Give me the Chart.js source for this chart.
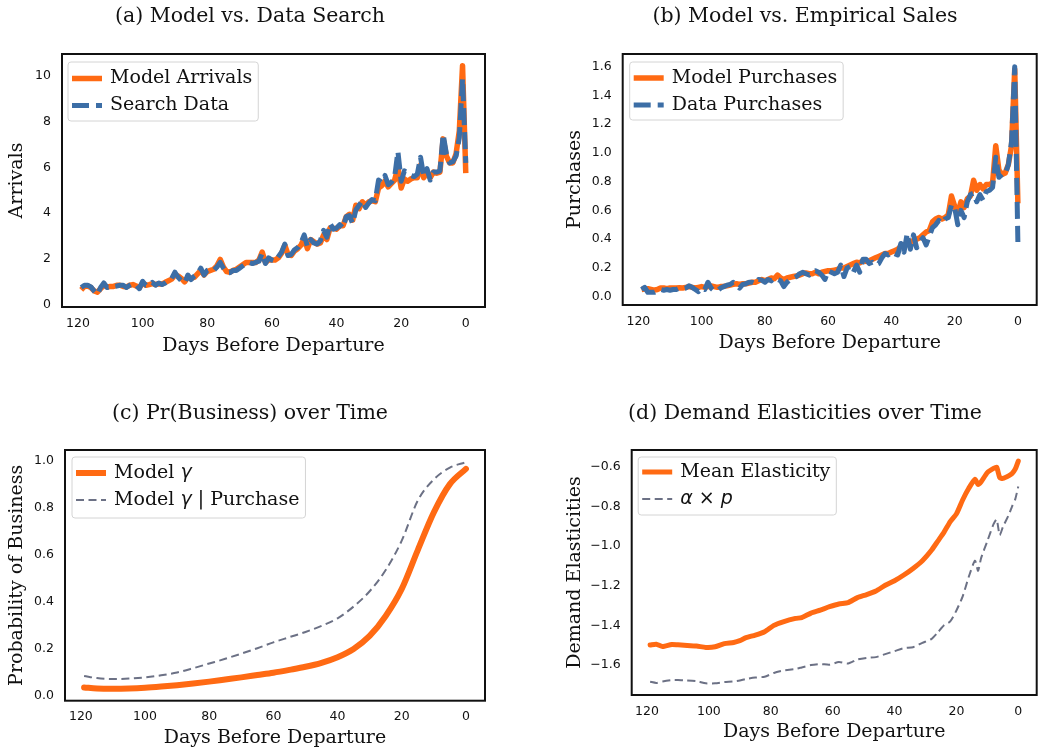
<!DOCTYPE html>
<html>
<head>
<meta charset="utf-8">
<script src="https://cdn.jsdelivr.net/npm/chart.js@4.4.1/dist/chart.umd.min.js"></script>
<style>
  html, body { margin: 0; padding: 0; background: #fff; overflow: hidden; }
  canvas { position: absolute; }
</style>
</head>
<body>
<canvas id="ca" width="520" height="380" style="left:0;top:0"></canvas>
<canvas id="cb" width="531" height="380" style="left:520px;top:0"></canvas>
<canvas id="cc" width="520" height="374" style="left:0;top:380px"></canvas>
<canvas id="cd" width="531" height="374" style="left:520px;top:380px"></canvas>
<script>
// days before departure, 119 -> 0
const days = [
  119,118,117,116,115,114,113,112,111,110,
  109,108,107,106,105,104,103,102,101,100,
  99,98,97,96,95,94,93,92,91,90,
  89,88,87,86,85,84,83,82,81,80,
  79,78,77,76,75,74,73,72,71,70,
  69,68,67,66,65,64,63,62,61,60,
  59,58,57,56,55,54,53,52,51,50,
  49,48,47,46,45,44,43,42,41,40,
  39,38,37,36,35,34,33,32,31,30,
  29,28,27,26,25,24,23,22,21,20,
  19,18,17,16,15,14,13,12,11,10,
  9,8,7,6,5,4,3,2,1,0
];
const xTicks = [0, 20, 40, 60, 80, 100, 120];

// (a)
const modelArrivals = [
  0.65,0.8,0.82,0.75,0.6,0.55,0.7,0.85,0.78,0.8,
  0.8,0.85,0.85,0.8,0.78,0.85,0.88,0.82,0.75,0.95,
  0.85,0.88,0.92,0.88,0.92,0.9,0.98,1.05,1.12,1.3,
  1.25,1.15,1.0,1.2,1.15,1.2,1.35,1.5,1.3,1.45,
  1.5,1.55,1.7,1.98,1.65,1.45,1.42,1.5,1.55,1.65,
  1.75,1.85,1.85,1.85,1.85,1.95,2.3,1.85,1.95,1.95,
  1.95,2.05,2.25,2.6,2.2,2.15,2.35,2.45,2.6,2.9,
  2.45,2.85,2.75,2.65,2.7,3.05,2.85,3.35,3.35,3.3,
  3.45,3.45,3.85,3.95,3.7,4.35,4.2,4.5,4.35,4.5,
  4.55,4.5,5.1,5.2,5.4,5.15,5.3,5.45,6.0,5.1,
  5.5,5.4,5.5,5.55,5.55,6.1,5.55,5.8,5.55,5.8,
  5.75,5.8,7.25,6.5,6.2,6.2,6.6,7.6,10.45,5.75
];
const searchData = [
  0.75,0.85,0.85,0.78,0.6,0.45,0.75,0.95,0.75,0.8,
  0.8,0.82,0.85,0.85,0.75,0.85,0.92,0.85,0.7,1.02,
  0.85,0.85,0.98,0.85,0.95,0.88,0.95,1.05,1.15,1.42,
  1.2,1.05,0.95,1.3,1.1,1.25,1.35,1.6,1.3,1.5,
  1.55,1.5,1.65,1.85,1.6,1.4,1.4,1.5,1.5,1.6,
  1.7,1.8,1.85,1.8,1.85,1.9,2.25,1.8,2.05,1.95,
  1.9,2.1,2.3,2.65,2.15,2.2,2.4,2.5,2.7,3.05,
  2.55,2.85,2.7,2.65,2.8,3.25,2.95,3.55,3.3,3.35,
  3.5,3.35,3.85,3.9,3.55,4.15,4.35,4.55,4.25,4.45,
  4.6,4.55,5.45,5.35,5.65,5.25,5.35,5.6,6.7,5.4,
  5.85,5.75,5.65,5.6,5.7,6.45,5.6,5.95,5.45,5.8,
  5.8,5.85,7.45,6.6,6.2,6.25,6.5,7.3,9.9,6.2
];

// (b)
const modelPurchases = [
  0.05,0.055,0.055,0.05,0.045,0.05,0.06,0.06,0.055,0.06,
  0.06,0.06,0.062,0.06,0.065,0.07,0.065,0.06,0.065,0.07,
  0.065,0.07,0.075,0.07,0.065,0.07,0.072,0.075,0.08,0.085,
  0.09,0.085,0.09,0.09,0.095,0.1,0.1,0.11,0.12,0.11,
  0.12,0.13,0.125,0.15,0.13,0.12,0.13,0.135,0.14,0.145,
  0.15,0.16,0.165,0.16,0.16,0.17,0.16,0.17,0.175,0.18,
  0.18,0.185,0.19,0.2,0.2,0.21,0.22,0.23,0.24,0.235,
  0.25,0.245,0.25,0.26,0.27,0.28,0.29,0.3,0.3,0.31,
  0.32,0.33,0.35,0.36,0.37,0.38,0.39,0.4,0.41,0.43,
  0.45,0.46,0.52,0.54,0.55,0.54,0.55,0.57,0.7,0.63,
  0.58,0.66,0.62,0.68,0.7,0.81,0.74,0.78,0.75,0.78,
  0.78,0.79,1.05,0.88,0.85,0.86,0.92,1.05,1.58,0.65
];
const dataPurchases = [
  0.05,0.065,0.03,0.03,0.03,0.04,0.05,0.045,0.05,0.045,
  0.05,0.05,0.06,0.055,0.06,0.075,0.065,0.05,0.035,0.06,
  0.05,0.1,0.06,0.04,0.04,0.06,0.07,0.08,0.085,0.1,
  0.08,0.06,0.085,0.09,0.1,0.1,0.09,0.12,0.115,0.1,
  0.12,0.11,0.13,0.12,0.11,0.07,0.1,0.12,0.13,0.14,
  0.16,0.17,0.16,0.15,0.17,0.18,0.17,0.15,0.12,0.18,
  0.17,0.16,0.17,0.22,0.14,0.2,0.21,0.17,0.22,0.17,
  0.26,0.26,0.23,0.24,0.22,0.23,0.27,0.3,0.29,0.31,
  0.3,0.29,0.37,0.31,0.44,0.33,0.43,0.34,0.38,0.41,
  0.36,0.42,0.48,0.5,0.53,0.51,0.54,0.55,0.64,0.62,
  0.5,0.6,0.55,0.66,0.71,0.72,0.66,0.71,0.67,0.73,
  0.74,0.76,0.97,0.83,0.85,0.85,0.92,1.08,1.6,0.38
];

// (c)
const cDays = [119,115,110,105,100,95,90,85,80,75,70,65,60,55,50,45,40,35,30,25,20,15,10,5,0];
const gammaModel = [0.036,0.032,0.031,0.032,0.035,0.040,0.046,0.053,0.061,0.070,0.079,0.089,0.099,
  0.111,0.124,0.141,0.165,0.200,0.255,0.340,0.455,0.620,0.780,0.900,0.965];
const gammaPurchase = [0.085,0.076,0.072,0.074,0.079,0.088,0.100,0.118,0.138,0.158,0.180,0.203,0.228,
  0.250,0.272,0.298,0.330,0.380,0.445,0.535,0.660,0.830,0.920,0.970,0.993];

// (d)
const dDays = [119,117,115,112,110,108,104,101,98,95,92,90,88,85,82,79,76,72,70,67,64,61,58,55,52,
  49,46,43,40,37,34,31,28,26,24,22,20,18,16,14,13,12,10,8,7,6,5,3,2,1,0];
const meanElasticity = [-1.499,-1.495,-1.507,-1.496,-1.498,-1.500,-1.504,-1.511,-1.508,-1.492,-1.486,
  -1.477,-1.462,-1.449,-1.432,-1.400,-1.382,-1.365,-1.361,-1.338,-1.323,-1.306,-1.292,-1.285,-1.260,
  -1.245,-1.227,-1.198,-1.175,-1.146,-1.113,-1.074,-1.020,-0.975,-0.930,-0.877,-0.838,-0.768,-0.709,
  -0.664,-0.690,-0.676,-0.630,-0.609,-0.603,-0.655,-0.659,-0.645,-0.634,-0.613,-0.572];
const alphaP = [-1.684,-1.690,-1.683,-1.676,-1.676,-1.677,-1.681,-1.692,-1.692,-1.686,-1.683,
  -1.678,-1.670,-1.663,-1.659,-1.640,-1.628,-1.620,-1.612,-1.600,-1.595,-1.598,-1.585,-1.592,-1.572,
  -1.564,-1.560,-1.545,-1.530,-1.515,-1.510,-1.488,-1.468,-1.435,-1.400,-1.380,-1.325,-1.255,-1.155,
  -1.074,-1.125,-1.060,-0.975,-0.890,-0.866,-0.945,-0.905,-0.840,-0.800,-0.765,-0.700];

const ORANGE = '#ff6a13';
const BLUE = '#3c6ea6';
const GREY = '#6c7185';
const SERIF = '"DejaVu Serif", serif';
const SANS = '"DejaVu Sans", sans-serif';
const tickFont = { family: SANS, size: 12.5 };
const axisFont = { family: SERIF, size: 19 };
const legFont = '19px ' + SERIF;
const mathFont = 'italic 19px ' + SANS;

function pairs(xs, ys) {
  return xs.map((x, i) => ({ x: x, y: ys[i] }));
}

// frame, panel caption and in-axes legend
function decor(o) {
  return {
    id: 'decor',
    afterDraw(chart) {
      const ctx = chart.ctx, a = chart.chartArea;
      ctx.save();
      ctx.setLineDash([]);
      ctx.strokeStyle = '#111';
      ctx.lineWidth = 2;
      ctx.strokeRect(a.left, a.top, a.right - a.left, a.bottom - a.top);

      ctx.fillStyle = '#111';
      ctx.textBaseline = 'middle';
      ctx.textAlign = 'center';
      ctx.font = '20.5px ' + SERIF;
      ctx.fillText(o.title, o.titleX, o.titleY);

      ctx.textAlign = 'left';
      const L = o.legend;
      const widths = L.items.map(it => it.parts.reduce((w, p) => {
        ctx.font = p.font;
        return w + ctx.measureText(p.text).width;
      }, 0));
      const bx = a.left + L.dx, by = a.top + L.dy;
      const bw = 42 + Math.max(...widths) + 6;
      ctx.beginPath();
      ctx.roundRect(bx, by, bw, L.h, 3);
      ctx.fillStyle = 'rgba(255,255,255,0.8)';
      ctx.fill();
      ctx.strokeStyle = '#d4d4d4';
      ctx.lineWidth = 1;
      ctx.stroke();

      L.items.forEach((it, i) => {
        const ds = chart.data.datasets[it.ds];
        const y = by + L.rows[i];
        ctx.beginPath();
        ctx.setLineDash(ds.borderDash || []);
        ctx.lineWidth = ds.borderWidth;
        ctx.strokeStyle = ds.borderColor;
        ctx.lineCap = 'butt';
        ctx.moveTo(bx + 4, y);
        ctx.lineTo(bx + 34, y);
        ctx.stroke();
        ctx.setLineDash([]);
        ctx.fillStyle = '#111';
        let tx = bx + 42;
        it.parts.forEach(p => {
          ctx.font = p.font;
          ctx.fillText(p.text, tx, y);
          tx += ctx.measureText(p.text).width;
        });
      });
      ctx.restore();
    }
  };
}

function panel(id, c) {
  new Chart(document.getElementById(id), {
    type: 'line',
    data: { datasets: c.datasets },
    options: {
      responsive: false,
      animation: false,
      layout: { padding: c.pad },
      elements: { point: { radius: 0 }, line: { borderJoinStyle: 'round' } },
      plugins: { legend: { display: false }, tooltip: { enabled: false }, title: { display: false } },
      scales: {
        x: {
          type: 'linear', reverse: true, min: -5.95, max: 124.95,
          grid: { display: false, drawTicks: false }, border: { display: false },
          afterBuildTicks: ax => { ax.ticks = xTicks.map(v => ({ value: v })); },
          ticks: { font: tickFont, color: '#111', padding: 9, maxRotation: 0, autoSkip: false },
          title: { display: true, text: 'Days Before Departure', font: axisFont, color: '#111',
                   padding: { top: 0, bottom: c.xTitlePad } },
          afterFit: ax => { ax.height = c.xHeight; }
        },
        y: {
          type: 'linear', min: c.yMin, max: c.yMax,
          grid: { display: false, drawTicks: false }, border: { display: false },
          afterBuildTicks: ax => { ax.ticks = c.yTicks.map(v => ({ value: v })); },
          ticks: { font: tickFont, color: '#111', padding: 11, callback: c.yFmt },
          title: { display: true, text: c.yTitle, font: axisFont, color: '#111',
                   padding: { top: c.yTitlePad, bottom: 0 } },
          afterFit: ax => { ax.width = c.yWidth; }
        }
      }
    },
    plugins: [decor(c)]
  });
}

const oneDec = v => v.toFixed(1);

panel('ca', {
  title: '(a) Model vs. Data Search', titleX: 250, titleY: 17,
  pad: { left: 0, top: 54, right: 35, bottom: 0 },
  yWidth: 62, xHeight: 73, yTitlePad: 5.6, xTitlePad: 22.6,
  yMin: -0.1, yMax: 10.96, yTicks: [0, 2, 4, 6, 8, 10], yFmt: v => String(v),
  yTitle: 'Arrivals',
  datasets: [
    { data: pairs(days, modelArrivals), borderColor: ORANGE, borderWidth: 5.5, tension: 0, order: 2 },
    { data: pairs(days, searchData), borderColor: BLUE, borderWidth: 5, borderDash: [17, 7], tension: 0, order: 1 }
  ],
  legend: { dx: 6, dy: 8, h: 59, rows: [16.5, 43.5], items: [
    { ds: 0, parts: [{ text: 'Model Arrivals', font: legFont }] },
    { ds: 1, parts: [{ text: 'Search Data', font: legFont }] }
  ] }
});

panel('cb', {
  title: '(b) Model vs. Empirical Sales', titleX: 285, titleY: 17,
  pad: { left: 35, top: 54, right: 14.3, bottom: 0 },
  yWidth: 67.7, xHeight: 75, yTitlePad: 8.6, xTitlePad: 25.6,
  yMin: -0.058, yMax: 1.688, yTicks: [0, 0.2, 0.4, 0.6, 0.8, 1.0, 1.2, 1.4, 1.6], yFmt: oneDec,
  yTitle: 'Purchases',
  datasets: [
    { data: pairs(days, modelPurchases), borderColor: ORANGE, borderWidth: 5.5, tension: 0, order: 2 },
    { data: pairs(days, dataPurchases), borderColor: BLUE, borderWidth: 5, borderDash: [17, 7], tension: 0, order: 1 }
  ],
  legend: { dx: 7, dy: 8, h: 58, rows: [16, 43], items: [
    { ds: 0, parts: [{ text: 'Model Purchases', font: legFont }] },
    { ds: 1, parts: [{ text: 'Data Purchases', font: legFont }] }
  ] }
});

panel('cc', {
  title: '(c) Pr(Business) over Time', titleX: 250, titleY: 34,
  pad: { left: 0, top: 70, right: 35, bottom: 0 },
  yWidth: 65, xHeight: 53.3, yTitlePad: 5.6, xTitlePad: 4.9,
  yMin: -0.02, yMax: 1.045, yTicks: [0, 0.2, 0.4, 0.6, 0.8, 1.0], yFmt: oneDec,
  yTitle: 'Probability of Business',
  datasets: [
    { data: pairs(cDays, gammaModel), borderColor: ORANGE, borderWidth: 6, borderCapStyle: 'round',
      cubicInterpolationMode: 'monotone', order: 1 },
    { data: pairs(cDays, gammaPurchase), borderColor: GREY, borderWidth: 2, borderDash: [8, 4.5],
      cubicInterpolationMode: 'monotone', order: 2 }
  ],
  legend: { dx: 7, dy: 7, h: 61, rows: [16, 43], items: [
    { ds: 0, parts: [{ text: 'Model ', font: legFont }, { text: 'γ', font: mathFont }] },
    { ds: 1, parts: [{ text: 'Model ', font: legFont }, { text: 'γ', font: mathFont },
                     { text: ' | ', font: '19px ' + SANS }, { text: 'Purchase', font: legFont }] }
  ] }
});

panel('cd', {
  title: '(d) Demand Elasticities over Time', titleX: 285, titleY: 34,
  pad: { left: 35, top: 70, right: 14.3, bottom: 0 },
  yWidth: 76.7, xHeight: 59, yTitlePad: 8.6, xTitlePad: 10.9,
  yMin: -1.751, yMax: -0.516, yTicks: [-1.6, -1.4, -1.2, -1.0, -0.8, -0.6],
  yFmt: v => v.toFixed(1).replace('-', '\u2212'),
  yTitle: 'Demand Elasticities',
  datasets: [
    { data: pairs(dDays, meanElasticity), borderColor: ORANGE, borderWidth: 5, borderCapStyle: 'round',
      tension: 0.2, order: 1 },
    { data: pairs(dDays, alphaP), borderColor: GREY, borderWidth: 2, borderDash: [8, 4.5],
      tension: 0.2, order: 2 }
  ],
  legend: { dx: 6.5, dy: 7, h: 58, rows: [15, 42], items: [
    { ds: 0, parts: [{ text: 'Mean Elasticity', font: legFont }] },
    { ds: 1, parts: [{ text: 'α', font: mathFont }, { text: ' × ', font: '19px ' + SANS },
                     { text: 'p', font: mathFont }] }
  ] }
});
</script>
</body>
</html>
